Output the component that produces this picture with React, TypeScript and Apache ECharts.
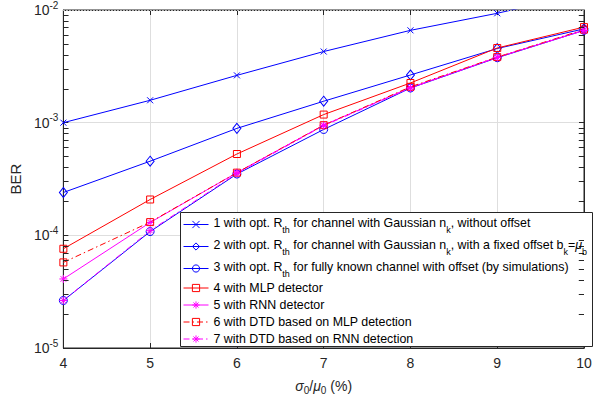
import React, { useEffect, useRef } from "react";
import * as echarts from "echarts";

const xValues = [4, 5, 6, 7, 8, 9, 10];
const ser1 = [1.0e-3, 1.58e-3, 2.63e-3, 4.28e-3, 6.6e-3, 9.35e-3, 1.4e-2];
const ser2 = [2.4e-4, 4.55e-4, 8.9e-4, 1.55e-3, 2.65e-3, 4.55e-3, 6.8e-3];
const ser3 = [2.64e-5, 1.08e-4, 3.5e-4, 8.7e-4, 2.03e-3, 3.77e-3, 6.6e-3];
const ser4 = [7.6e-5, 2.08e-4, 5.27e-4, 1.18e-3, 2.25e-3, 4.6e-3, 7.05e-3];
const ser5 = [4.1e-5, 1.3e-4, 3.6e-4, 9.5e-4, 2.05e-3, 3.8e-3, 6.6e-3];
const ser6 = [5.75e-5, 1.31e-4, 3.6e-4, 9.5e-4, 2.08e-3, 3.82e-3, 6.7e-3];
const ser7 = [2.64e-5, 1.1e-4, 3.55e-4, 9.4e-4, 2.03e-3, 3.8e-3, 6.6e-3];

const seriesNames = [
  "1 with opt. Rth for channel with Gaussian nk, without offset",
  "2 with opt. Rth for channel with Gaussian nk, with a fixed offset bk=μb",
  "3 with opt. Rth for fully known channel with offset (by simulations)",
  "4 with MLP detector",
  "5 with RNN detector",
  "6 with DTD based on MLP detection",
  "7 with DTD based on RNN detection",
];
const legendRich = [
  "{m|1 with opt. R}{sub|th}{m| for channel with Gaussian n}{sub|k}{m|, without offset}",
  "{m|2 with opt. R}{sub|th}{m| for channel with Gaussian n}{sub|k}{m|, with a fixed offset b}{sub|k}{m|=}{mu|μ}{sub|b}",
  "{m|3 with opt. R}{sub|th}{m| for fully known channel with offset (by simulations)}",
  "{n|4 with MLP detector}",
  "{n|5 with RNN detector}",
  "{n|6 with DTD based on MLP detection}",
  "{n|7 with DTD based on RNN detection}",
];

const xMin = 4;
const xMax = 10;
const yMin = 1e-5;
const yMax = 1e-2;
const decadeExps = [-5, -4, -3];
const minorMult = [2, 3, 4, 5, 6, 7, 8, 9];

const BLUE = "#0000FF";
const RED = "#FF0000";
const MAG = "#FF00FF";
const DARK = "#262626";

const SYM_X = "path://M0,0L10,10M10,0L0,10";
const SYM_STAR = "path://M5,0L5,10M0,5L10,5M1.5,1.5L8.5,8.5M8.5,1.5L1.5,8.5";

function pair(data: number[]) {
  return xValues.map((x, i) => [x, data[i]]);
}

export default function App() {
  const ref = useRef<HTMLDivElement>(null);
  useEffect(() => {
    document.body.style.margin = "0";
    if (!ref.current) return;
    const chart = echarts.init(ref.current, undefined, { renderer: "svg" });

    const minorVals: number[] = [];
    decadeExps.forEach((e) => minorMult.forEach((k) => minorVals.push(k * Math.pow(10, e))));

    const tickLen = 0.06;
    const tickData: any[] = [];
    minorVals.forEach((v) => {
      tickData.push([{ coord: [xMin, v] }, { coord: [xMin + tickLen, v] }]);
      tickData.push([{ coord: [xMax - tickLen, v] }, { coord: [xMax, v] }]);
    });

    const mk = (
      name: string,
      data: number[],
      color: string,
      symbol: string,
      size: number | number[],
      dashed: boolean
    ) => ({
      name,
      type: "line",
      data: pair(data),
      symbol,
      symbolSize: size,
      showAllSymbol: true,
      clip: true,
      z: 3,
      lineStyle: { color, width: 1, type: dashed ? [6, 3, 1.5, 3] : "solid" },
      itemStyle: { color: "rgba(0,0,0,0)", borderColor: color, borderWidth: 1 },
      emphasis: { disabled: true },
    });

    const axisCommon = {
      axisLine: { show: true, onZero: false, lineStyle: { color: DARK, width: 1 } },
      axisTick: { show: true, inside: true, length: 5, lineStyle: { color: DARK } },
    };

    const option: any = {
      animation: false,
      textStyle: { fontFamily: "Liberation Sans, Arial, sans-serif", color: DARK },
      grid: {
        left: 63,
        right: 21,
        top: 6,
        bottom: 53,
        containLabel: false,
        show: true,
        borderColor: DARK,
        borderWidth: 1,
        backgroundColor: "transparent",
      },
      graphic: [
        {
          type: "rect",
          z: 5,
          silent: true,
          shape: { x: 180.5, y: 212.5, width: 412, height: 134 },
          style: { fill: "#fff", stroke: DARK, lineWidth: 1 },
        },
      ],
      legend: {
        orient: "vertical",
        left: 180,
        top: 212,
        z: 6,
        itemGap: 3,
        itemWidth: 25,
        itemHeight: 9,
        padding: [3, 4, 2, 3],
        borderWidth: 0,
        backgroundColor: "transparent",
        data: seriesNames,
        selectedMode: false,
        lineStyle: { width: 1 },
        itemStyle: { borderWidth: 1, color: "rgba(0,0,0,0)" },
        formatter: (name: string) => legendRich[seriesNames.indexOf(name)],
        textStyle: {
          fontSize: 12.4,
          color: "#000",
          rich: {
            m: { fontSize: 12.4, lineHeight: 14, padding: [0, 0, 3, 0], color: "#000" },
            n: { fontSize: 12.4, lineHeight: 14, padding: [0.5, 0, 1.5, 0], color: "#000" },
            sub: { fontSize: 9, lineHeight: 10, padding: [10, 0, 0, 0], color: "#000" },
            mu: {
              fontSize: 12.4,
              lineHeight: 14,
              padding: [0, 0, 3, 0],
              fontStyle: "italic",
              color: "#000",
            },
          },
        },
      },
      xAxis: [
        {
          type: "value",
          min: xMin,
          max: xMax,
          interval: 1,
          position: "bottom",
          name: "{g|σ}{s|0}{n|/}{g|μ}{s|0}{n| (%)}",
          nameLocation: "middle",
          nameGap: 28,
          nameTextStyle: {
            rich: {
              g: { fontSize: 14, fontStyle: "italic", color: DARK },
              s: { fontSize: 10, padding: [9, 0, 0, 0], color: DARK },
              n: { fontSize: 14, color: DARK },
            },
          },
          ...axisCommon,
          axisLabel: { fontSize: 14, color: DARK, margin: 8 },
          splitLine: { show: true, lineStyle: { color: "#dedede", width: 1 } },
        },
        {
          type: "value",
          min: xMin,
          max: xMax,
          interval: 1,
          position: "top",
          ...axisCommon,
          axisLabel: { show: false },
          splitLine: { show: false },
        },
      ],
      yAxis: [
        {
          type: "log",
          logBase: 10,
          min: yMin,
          max: yMax,
          position: "left",
          name: "BER",
          nameLocation: "middle",
          nameGap: 31,
          nameTextStyle: { fontSize: 15, color: DARK },
          ...axisCommon,
          axisLabel: {
            fontSize: 14,
            color: DARK,
            margin: 5,
            formatter: (v: number) => "10{sup|" + Math.round(Math.log10(v)) + "}",
            rich: { sup: { fontSize: 10, padding: [0, 0, 10, 0], color: DARK } },
          },
          splitLine: { show: true, lineStyle: { color: "#dedede", width: 1 } },
        },
        {
          type: "log",
          logBase: 10,
          min: yMin,
          max: yMax,
          position: "right",
          ...axisCommon,
          axisLabel: { show: false },
          splitLine: { show: false },
        },
      ],
      series: [
        {
          name: "minor-grid",
          type: "line",
          data: [[xMin, yMin]],
          showSymbol: false,
          z: 1,
          lineStyle: { opacity: 0 },
          markLine: {
            silent: true,
            symbol: ["none", "none"],
            label: { show: false },
            lineStyle: { color: "#b8b8b8", width: 1, type: [1, 2] },
            data: minorVals.map((v) => ({ yAxis: v })),
            animation: false,
          },
        },
        {
          name: "minor-ticks",
          type: "line",
          data: [[xMin, yMin]],
          showSymbol: false,
          z: 1,
          lineStyle: { opacity: 0 },
          markLine: {
            silent: true,
            symbol: ["none", "none"],
            label: { show: false },
            lineStyle: { color: DARK, width: 1, type: "solid" },
            data: tickData,
            animation: false,
          },
        },
        mk(seriesNames[0], ser1, BLUE, SYM_X, 6, false),
        mk(seriesNames[1], ser2, BLUE, "diamond", [8, 10], false),
        mk(seriesNames[2], ser3, BLUE, "circle", 8, false),
        mk(seriesNames[3], ser4, RED, "rect", 7, false),
        mk(seriesNames[4], ser5, MAG, SYM_STAR, 8, false),
        mk(seriesNames[5], ser6, RED, "rect", 7, true),
        mk(seriesNames[6], ser7, MAG, SYM_STAR, 8, true),
      ],
    };
    chart.setOption(option);
    return () => chart.dispose();
  }, []);
  return <div ref={ref} style={{ width: 605, height: 401 }} />;
}
